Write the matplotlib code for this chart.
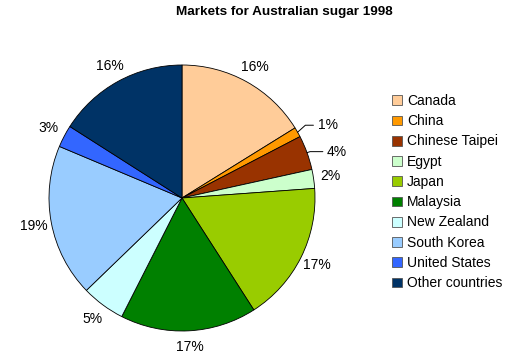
import numpy as np
import matplotlib
matplotlib.use("Agg")
import matplotlib.pyplot as plt
from matplotlib.patches import Patch

plt.rcParams['font.family'] = ['Liberation Sans', 'DejaVu Sans']

categories = ["Canada", "China", "Chinese Taipei", "Egypt", "Japan", "Malaysia",
              "New Zealand", "South Korea", "United States", "Other countries"]
values = [16.2, 1.2, 4.2, 2.3, 17.1, 16.6, 5.3, 18.6, 2.7, 16.0]
colors = ["#FFCC99", "#FF9900", "#993300", "#CCFFCC", "#99CC00", "#008000",
          "#CCFFFF", "#99CCFF", "#3366FF", "#003366"]
title = "Markets for Australian sugar 1998"

fig = plt.figure(figsize=(5.20, 3.57), dpi=100)
W, H = 520, 357
cx, cy, R = 182, 198, 133
ax = fig.add_axes([(cx - R) / W, (H - cy - R) / H, 2 * R / W, 2 * R / H])
wedges, _ = ax.pie(values, colors=colors, startangle=90, counterclock=False,
                   wedgeprops=dict(edgecolor="black", linewidth=0.6))
ax.set_xlim(-1, 1)
ax.set_ylim(-1, 1)
ax.set_aspect('auto')
ax.axis('off')

total = sum(values)
leader = {"China": (20, 7, 42), "Chinese Taipei": (20, 1, 18)}
for i, (w, v) in enumerate(zip(wedges, values)):
    a = np.deg2rad((w.theta1 + w.theta2) / 2)
    lab = f"{round(100 * v / total)}%"
    if categories[i] in leader:
        dx, dy, angB = leader[categories[i]]
        ax.annotate(lab, xy=(np.cos(a), np.sin(a)), xytext=(dx, dy),
                    textcoords='offset pixels', fontsize=10, ha='left', va='center',
                    arrowprops=dict(arrowstyle='-', lw=0.7, color='black',
                                    connectionstyle=f'angle,angleA=0,angleB={angB},rad=0',
                                    shrinkA=1, shrinkB=0))
    else:
        r = 1.13 if np.sin(a) > -0.9 else 1.12
        ax.text(r * np.cos(a), r * np.sin(a), lab, fontsize=10,
                ha='center', va='center')

fig.text(284 / W, 1 - 12 / H, title, fontsize=9.7, fontweight='bold',
         ha='center', va='center')

handles = [Patch(facecolor=c, edgecolor='#555555', linewidth=0.6) for c in colors]
leg = fig.legend(handles, categories, loc='upper left', bbox_to_anchor=(392 / W, 1 - 94 / H),
                 frameon=False, fontsize=10, handlelength=0.7, handleheight=0.7,
                 handletextpad=0.4, labelspacing=0.45, borderaxespad=0, borderpad=0)

fig.savefig("out.png", dpi=100)
